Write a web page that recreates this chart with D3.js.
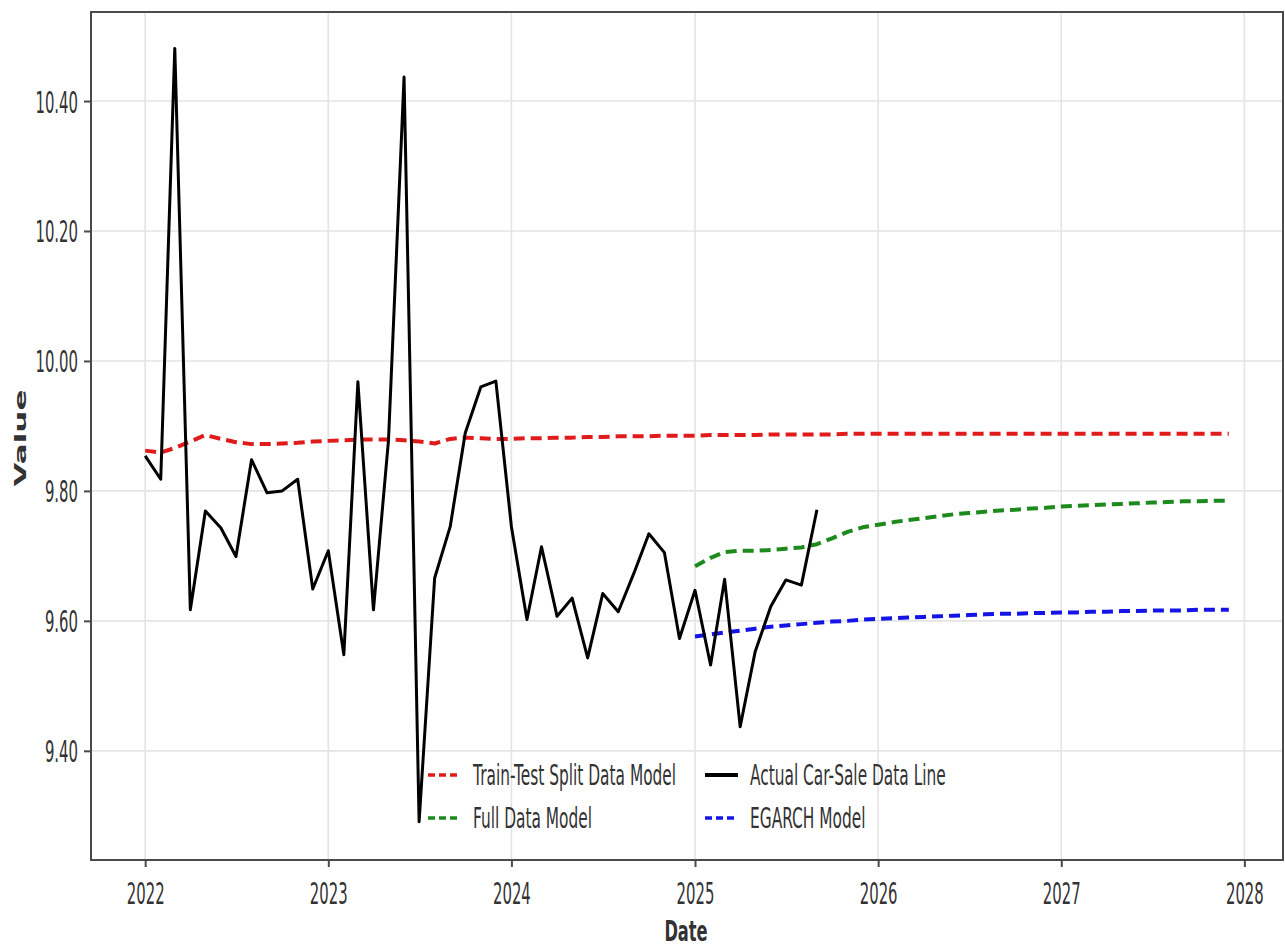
<!DOCTYPE html>
<html>
<head>
<meta charset="utf-8">
<script src="https://cdn.jsdelivr.net/npm/d3@7"></script>
<style>
  html, body { margin: 0; padding: 0; background: #fff; }
  svg { display: block; }
  text { font-family: "DejaVu Sans", sans-serif; fill: #333; }
</style>
</head>
<body>
<svg id="chart" width="1285" height="947"></svg>
<script>
// Monthly actual car-sale values (log scale), Jan 2022 – Sep 2025
const actualStart = "2022-01";
const actualValues = [
  9.854, 9.818, 10.481, 9.617, 9.769, 9.743, 9.699, 9.848, 9.797, 9.800, 9.818, 9.649,
  9.708, 9.548, 9.968, 9.617, 9.878, 10.437, 9.291, 9.666, 9.745, 9.889, 9.960, 9.969,
  9.745, 9.602, 9.714, 9.607, 9.635, 9.543, 9.642, 9.614, 9.673, 9.734, 9.705, 9.573,
  9.647, 9.532, 9.664, 9.437, 9.553, 9.622, 9.663, 9.655, 9.771
];

// Train-test split model, Jan 2022 – Dec 2027
const trainTestStart = "2022-01";
const trainTestValues = [
  9.862, 9.859, 9.866, 9.876, 9.886, 9.880, 9.875, 9.872, 9.872, 9.873, 9.874, 9.876,
  9.877, 9.878, 9.879, 9.879, 9.879, 9.878, 9.876, 9.873, 9.880, 9.882, 9.881, 9.880,
  9.880, 9.881, 9.881, 9.882, 9.882, 9.883, 9.883, 9.884, 9.884, 9.884, 9.885, 9.885,
  9.885, 9.886, 9.886, 9.886, 9.886, 9.887, 9.887, 9.887, 9.887, 9.887, 9.888, 9.888,
  9.888, 9.888, 9.888, 9.888, 9.888, 9.888, 9.888, 9.888, 9.888, 9.888, 9.888, 9.888,
  9.888, 9.888, 9.888, 9.888, 9.888, 9.888, 9.888, 9.888, 9.888, 9.888, 9.888, 9.888
];

// Full data model forecast, Jan 2025 – Dec 2027
const fullStart = "2025-01";
const fullValues = [
  9.684, 9.697, 9.706, 9.708, 9.708, 9.709, 9.711, 9.713, 9.718, 9.727, 9.737, 9.744,
  9.748, 9.752, 9.755, 9.758, 9.761, 9.764, 9.766, 9.768, 9.770, 9.771, 9.773, 9.774,
  9.776, 9.777, 9.778, 9.779, 9.780, 9.781, 9.782, 9.783, 9.784, 9.784, 9.785, 9.785
];

// EGARCH model forecast, Jan 2025 – Dec 2027
const egarchStart = "2025-01";
const egarchValues = [
  9.576, 9.579, 9.582, 9.585, 9.588, 9.591, 9.593, 9.595, 9.597, 9.599, 9.600, 9.602,
  9.603, 9.604, 9.605, 9.606, 9.607, 9.608, 9.609, 9.610, 9.611, 9.611, 9.612, 9.612,
  9.613, 9.613, 9.614, 9.614, 9.615, 9.615, 9.616, 9.616, 9.616, 9.617, 9.617, 9.617
];

const yTickValues = [9.40, 9.60, 9.80, 10.00, 10.20, 10.40];
const xTickYears = [2022, 2023, 2024, 2025, 2026, 2027, 2028];

const legendLabels = [
  "Train-Test Split Data Model", "Full Data Model",
  "Actual Car-Sale Data Line", "EGARCH Model"
];

// ---- helpers ----
const parseMonth = d3.timeParse("%Y-%m");
function monthly(start, values) {
  const t0 = parseMonth(start);
  return values.map((v, i) => ({ date: d3.timeMonth.offset(t0, i), value: v }));
}

const actual = monthly(actualStart, actualValues);
const trainTest = monthly(trainTestStart, trainTestValues);
const full = monthly(fullStart, fullValues);
const egarch = monthly(egarchStart, egarchValues);

const svg = d3.select("#chart");
const plot = { left: 91, top: 12, right: 1283, bottom: 860 };
const SX = 0.48; // horizontal squeeze of tick text

// x domain: data extent with 5% padding on each side
const allDates = [...actual, ...trainTest, ...full, ...egarch].map(d => d.date);
const [dMin, dMax] = d3.extent(allDates);
const span = dMax - dMin;
const x = d3.scaleTime()
  .domain([new Date(+dMin - span * 0.05), new Date(+dMax + span * 0.05)])
  .range([plot.left, plot.right]);

const y = d3.scaleLinear()
  .domain([9.232, 10.537])
  .range([plot.bottom, plot.top]);

// ---- grid ----
const grid = svg.append("g");
grid.selectAll("line.h").data(yTickValues).join("line")
  .attr("x1", plot.left).attr("x2", plot.right)
  .attr("y1", d => y(d)).attr("y2", d => y(d))
  .attr("stroke", "#e4e4e4").attr("stroke-width", 1.6);
grid.selectAll("line.v").data(xTickYears).join("line")
  .attr("x1", d => x(new Date(d, 0, 1))).attr("x2", d => x(new Date(d, 0, 1)))
  .attr("y1", plot.top).attr("y2", plot.bottom)
  .attr("stroke", "#e4e4e4").attr("stroke-width", 1.6);

// ---- series ----
const line = d3.line().x(d => x(d.date)).y(d => y(d.value));

const series = [
  { data: trainTest, color: "#e01b1b", dash: "11,6", width: 4 },
  { data: full, color: "#1e8a1e", dash: "11,6", width: 4 },
  { data: egarch, color: "#1414e6", dash: "11,6", width: 4 },
  { data: actual, color: "#000", dash: null, width: 3 }
];
svg.append("g").selectAll("path").data(series).join("path")
  .attr("d", s => line(s.data))
  .attr("fill", "none")
  .attr("stroke", s => s.color)
  .attr("stroke-width", s => s.width)
  .attr("stroke-dasharray", s => s.dash)
  .attr("stroke-linejoin", "round");

// ---- frame ----
svg.append("rect")
  .attr("x", plot.left).attr("y", plot.top)
  .attr("width", plot.right - plot.left).attr("height", plot.bottom - plot.top)
  .attr("fill", "none").attr("stroke", "#4a4a4a").attr("stroke-width", 2);

// ---- axes ----
const xAxis = svg.append("g").attr("transform", `translate(0,${plot.bottom})`)
  .call(d3.axisBottom(x).tickValues(xTickYears.map(yr => new Date(yr, 0, 1)))
    .tickSize(7).tickFormat(d3.timeFormat("%Y")));
xAxis.select(".domain").remove();
xAxis.selectAll(".tick line").attr("stroke", "#4a4a4a").attr("stroke-width", 2);
xAxis.selectAll(".tick text")
  .attr("y", 0).attr("dy", 0)
  .attr("transform", `translate(0,44) scale(${SX},1)`)
  .style("font-size", "31px").attr("fill", "#333");

const yAxis = svg.append("g").attr("transform", `translate(${plot.left},0)`)
  .call(d3.axisLeft(y).tickValues(yTickValues).tickSize(7).tickFormat(d3.format(".2f")));
yAxis.select(".domain").remove();
yAxis.selectAll(".tick line").attr("stroke", "#4a4a4a").attr("stroke-width", 2);
yAxis.selectAll(".tick text")
  .attr("x", 0).attr("dy", 0)
  .attr("transform", `translate(-13,11) scale(${SX},1)`)
  .style("font-size", "31px").attr("fill", "#333");

// ---- axis titles ----
svg.append("text")
  .attr("transform", `translate(${(plot.left + plot.right) / 2 - 1},941) scale(0.56,1)`)
  .attr("text-anchor", "middle")
  .style("font-size", "29px").style("font-weight", "bold").attr("fill", "#222")
  .text("Date");

svg.append("text")
  .attr("transform", `translate(26,${(plot.top + plot.bottom) / 2 + 2}) scale(0.5,1) rotate(-90)`)
  .attr("text-anchor", "middle")
  .style("font-size", "31px").style("font-weight", "bold").attr("fill", "#222")
  .text("Value");

// ---- legend ----
const legendItems = [
  { label: legendLabels[0], color: "#e01b1b", dash: "7,4", col: 0, row: 0 },
  { label: legendLabels[1], color: "#1e8a1e", dash: "7,4", col: 0, row: 1 },
  { label: legendLabels[2], color: "#000", dash: null, col: 1, row: 0 },
  { label: legendLabels[3], color: "#1414e6", dash: "7,4", col: 1, row: 1 }
];
const legendX = [428, 705], legendY = [775, 818];
const lg = svg.append("g").selectAll("g").data(legendItems).join("g")
  .attr("transform", d => `translate(${legendX[d.col]},${legendY[d.row]})`);
lg.append("line")
  .attr("x1", 0).attr("x2", 33).attr("y1", 0).attr("y2", 0)
  .attr("stroke", d => d.color).attr("stroke-width", d => d.dash ? 3.5 : 4)
  .attr("stroke-dasharray", d => d.dash);
lg.append("text")
  .attr("transform", `translate(45,10) scale(0.55,1)`)
  .style("font-size", "28px").attr("fill", "#333")
  .text(d => d.label);
</script>
</body>
</html>
